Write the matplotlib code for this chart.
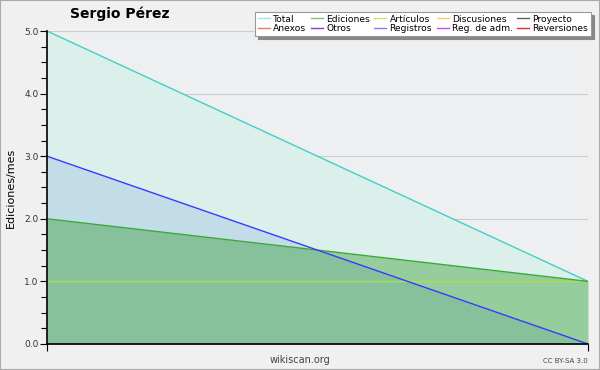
import numpy as np
import matplotlib.pyplot as plt
from matplotlib.lines import Line2D

months = [0, 1]
total = [5.0, 1.0]
registros = [3.0, 0.0]
ediciones = [2.0, 1.0]
articulos = [1.0, 1.0]

legend_labels = ['Total', 'Ediciones', 'Artículos', 'Discusiones', 'Proyecto',
                 'Anexos', 'Otros', 'Registros', 'Reg. de adm.', 'Reversiones']
legend_colors = ['#a8e4e0', '#80c080', '#c8e870', '#f0d060', '#606060',
                 '#f08048', '#8040d8', '#8080f0', '#d048e0', '#e03030']

fig = plt.figure(figsize=(6, 3.7), dpi=100, facecolor='#f0f0f0')
ax = fig.add_axes([0.0783, 0.0703, 0.9017, 0.8459])
ax.set_facecolor('#eeeff0')

ax.fill_between(months, total, color='#dbf0ea', lw=0, zorder=1)
ax.fill_between(months, registros, color='#c3dde8', lw=0, zorder=2)
ax.fill_between(months, ediciones, color=(35/255, 148/255, 30/255), alpha=0.38,
                lw=0, zorder=3)
ax.plot(months, total, color='#40d0c8', lw=1, zorder=5)
ax.plot(months, articulos, color='#a8e050', lw=1, zorder=4)
ax.plot(months, ediciones, color='#3aa83a', lw=1, zorder=5)
ax.plot(months, registros, color='#3a3aff', lw=1, zorder=6)

ax.set_xlim(0, 1)
ax.set_ylim(0, 5)
ax.set_yticks(np.arange(0, 5.1, 1.0))
ax.set_yticklabels(['%.1f' % v for v in np.arange(0, 5.1, 1.0)])
ax.set_yticks(np.arange(0, 5.01, 0.25), minor=True)
ax.set_xticks([0, 1])
ax.set_xticklabels(['', ''])
ax.tick_params(axis='y', which='major', length=5, width=0.8, labelsize=6.5,
               colors='black', labelcolor='#333333', pad=1)
ax.tick_params(axis='y', which='minor', length=4, width=0.8)
ax.tick_params(axis='x', length=5, width=0.8)
ax.grid(axis='y', color='#cccccc', lw=0.8, zorder=0)
ax.set_axisbelow(True)
for s in ['top', 'right']:
    ax.spines[s].set_visible(False)
for s in ['left', 'bottom']:
    ax.spines[s].set_linewidth(1.2)
    ax.spines[s].set_zorder(7)

ax.set_ylabel('Ediciones/mes', fontsize=8, labelpad=6)
fig.text(0.2, 0.962, 'Sergio Pérez', fontsize=10, fontweight='bold',
         ha='center', va='center')
fig.text(0.5, 0.027, 'wikiscan.org', fontsize=7, color='#444444',
         ha='center', va='center')
fig.text(0.98, 0.025, 'CC BY-SA 3.0', fontsize=5, color='#444444',
         ha='right', va='center')

# legend fills column by column, so interleave the two rows
handles = [Line2D([], [], color=c, lw=1) for c in legend_colors]
order = [i + 5 * r for i in range(5) for r in range(2)]
leg = fig.legend([handles[i] for i in order], [legend_labels[i] for i in order],
                 ncol=5, loc='upper right',
                 bbox_to_anchor=(0.985, 0.968), fontsize=6.6,
                 frameon=True,
                 fancybox=False, shadow={'color': '#888888', 'alpha': 1},
                 handlelength=1.3, handletextpad=0.35, columnspacing=0.5,
                 labelspacing=0.05, borderpad=0.3, borderaxespad=0)
leg.get_frame().set_edgecolor('#999999')
leg.get_frame().set_linewidth(0.8)

fig.patches.append(plt.Rectangle((0, 0), 1, 1, transform=fig.transFigure,
                                 fill=False, edgecolor='#aaaaaa', lw=1.5))
fig.savefig('out.png', dpi=100, facecolor=fig.get_facecolor())
